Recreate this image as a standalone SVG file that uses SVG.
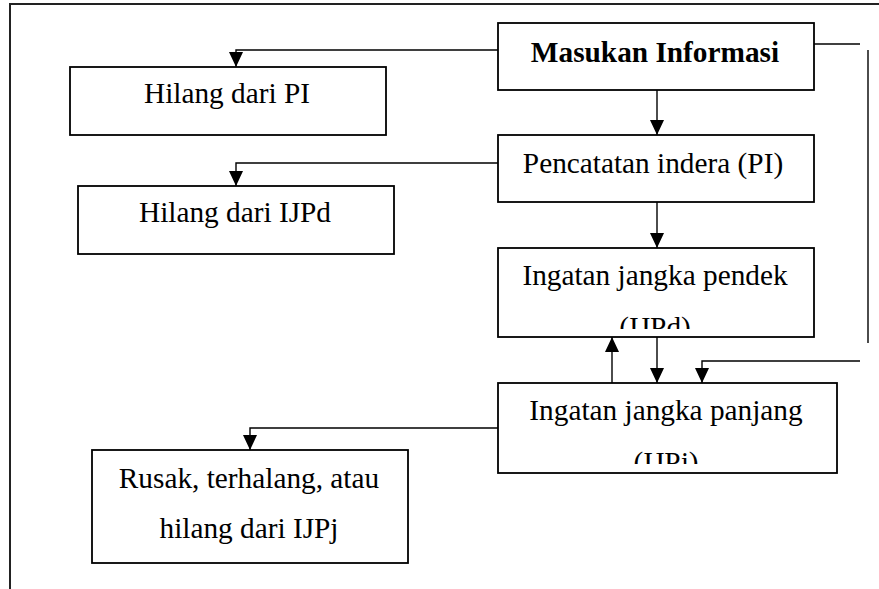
<svg xmlns="http://www.w3.org/2000/svg" width="879" height="589" viewBox="0 0 879 589">
<style>
.box{fill:#fff;stroke:#000;stroke-width:1.8}
.t{font-family:"Liberation Serif","Times New Roman",serif;font-size:29.3px;fill:#000;text-anchor:middle}
.b{font-weight:bold}
.c{fill:none;stroke:#000;stroke-width:1.4}
.frame{fill:none;stroke:#222;stroke-width:2}
</style>
<defs>
<marker id="ah" markerUnits="userSpaceOnUse" markerWidth="15" markerHeight="14" refX="15" refY="7" orient="auto">
<path d="M0,0 L15,7 L0,14 Z" fill="#000"/>
</marker>
<clipPath id="clip3"><rect x="498" y="248" width="316" height="81"/></clipPath>
<clipPath id="clip4"><rect x="498" y="383" width="339" height="81"/></clipPath>
</defs>
<path class="frame" d="M10,589 V4 H879"/>
<g id="connectors">
<path class="c" d="M657,90 V135" marker-end="url(#ah)"/>
<path class="c" d="M657,202 V248" marker-end="url(#ah)"/>
<path class="c" d="M657,337 V383" marker-end="url(#ah)"/>
<path class="c" d="M612,383 V337" marker-end="url(#ah)"/>
<path class="c" d="M814,44 H860"/>
<path class="c" d="M868,50 V343"/>
<path class="c" d="M860,361 H702 V383" marker-end="url(#ah)"/>
<path class="c" d="M498,50 H236 V67" marker-end="url(#ah)"/>
<path class="c" d="M498,163 H236 V186" marker-end="url(#ah)"/>
<path class="c" d="M498,428 H250 V450" marker-end="url(#ah)"/>
</g>
<g id="masukan">
<rect class="box" x="498" y="23" width="316" height="67"/>
<text class="t b" x="655" y="62">Masukan Informasi</text>
</g>
<g id="pencatatan">
<rect class="box" x="498" y="135" width="316" height="67"/>
<text class="t" x="653" y="173">Pencatatan indera (PI)</text>
</g>
<g id="ijpd">
<rect class="box" x="498" y="248" width="316" height="89"/>
<text class="t" x="655" y="285">Ingatan jangka pendek</text>
<text class="t" x="655" y="337" clip-path="url(#clip3)">(IJPd)</text>
</g>
<g id="ijpj">
<rect class="box" x="498" y="383" width="339" height="90"/>
<text class="t" x="666" y="420">Ingatan jangka panjang</text>
<text class="t" x="666" y="472" clip-path="url(#clip4)">(IJPj)</text>
</g>
<g id="hilang-pi">
<rect class="box" x="70" y="67" width="316" height="68"/>
<text class="t" x="227" y="103">Hilang dari PI</text>
</g>
<g id="hilang-ijpd">
<rect class="box" x="78" y="186" width="316" height="68"/>
<text class="t" x="235" y="222">Hilang dari IJPd</text>
</g>
<g id="rusak">
<rect class="box" x="92" y="450" width="316" height="113"/>
<text class="t" x="249" y="488">Rusak, terhalang, atau</text>
<text class="t" x="249" y="538">hilang dari IJPj</text>
</g>
</svg>
